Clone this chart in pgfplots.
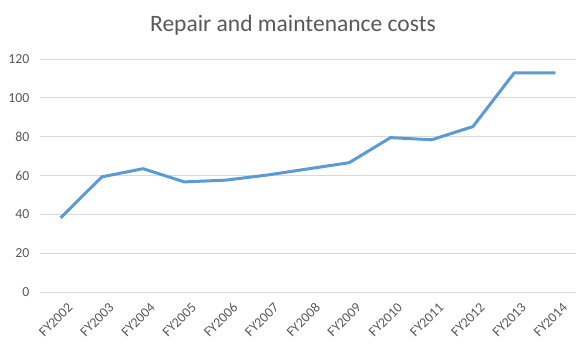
\documentclass[border=0pt]{standalone}
\usepackage{fontspec}
\setmainfont{Carlito}
\usepackage{pgfplots}
\pgfplotsset{compat=1.18}
\definecolor{linec}{HTML}{5B9BD5}
\definecolor{gridc}{HTML}{D9D9D9}
\definecolor{textc}{HTML}{595959}
\begin{document}
\begin{tikzpicture}[x=1pt,y=1pt]
\useasboundingbox (-40,-60) rectangle (546,292);
\begin{axis}[at={(0,0)},anchor=south west, scale only axis, width=536pt, height=233pt,
 xmin=-0.5, xmax=12.5, ymin=0, ymax=120, ytick={0,20,...,120}, xtick={0,...,12},
 xticklabels={FY2002,FY2003,FY2004,FY2005,FY2006,FY2007,FY2008,FY2009,FY2010,FY2011,FY2012,FY2013,FY2014},
 axis line style={draw=none}, ymajorgrids, grid style={gridc, line width=0.8pt}, major tick length=0,
 tick label style={textc, font=\fontsize{13.8}{15}\selectfont},
 yticklabel style={xshift=-7pt},
 x tick label style={rotate=45, anchor=north east, yshift=-8pt, xshift=1pt},
 /pgf/number format/assume math mode=true,
 clip=false]
\addplot[linec, line width=3pt, line join=round, mark=none] coordinates {
(0,38.2) (1,59.3) (2,63.5) (3,56.7) (4,57.6) (5,60.2) (6,63.4) (7,66.6) (8,79.5) (9,78.4) (10,85.2) (11,112.8) (12,112.8)};
\end{axis}
\node[textc, font=\fontsize{23.5}{26}\selectfont] at (253,267) {Repair and maintenance costs};
\end{tikzpicture}
\end{document}
